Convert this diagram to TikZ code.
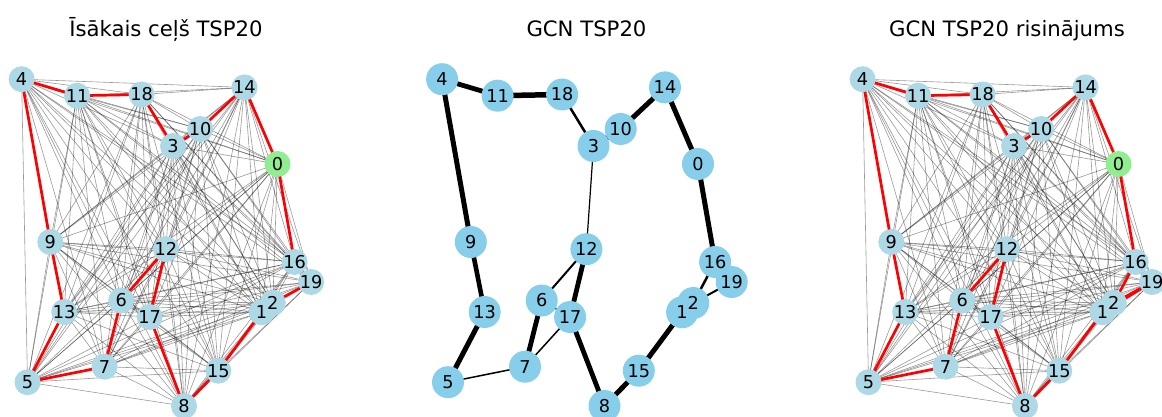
\documentclass[tikz,border=0pt]{standalone}
\usepackage{fontspec}
\setmainfont{DejaVu Sans}
\usetikzlibrary{backgrounds}
\definecolor{nodeblue}{HTML}{ADD8E6}
\definecolor{nodegreen}{HTML}{90EE90}
\definecolor{gcnblue}{HTML}{87CEEB}

% vertex layout: index / x / y (shared by the three panels)
\def\vlist{0/277.5/164, 1/261.6/312.3, 2/272.8/303, 3/173/146, 4/21.6/79.2,
  5/27.5/382.2, 6/121.2/300.5, 7/104.5/366.7, 8/184/406, 9/50.3/242,
  10/200.2/129, 11/77.1/95.7, 12/165.9/249.2, 13/64.2/312, 14/244.5/87.4,
  15/218.3/370.7, 16/294.6/262, 17/149.6/317, 18/141.6/94.5, 19/311.2/282}
% optimal tour
\def\tourA{4/11, 11/18, 18/3, 3/10, 10/14, 14/0, 0/16, 16/19, 19/2, 2/1,
  1/15, 15/8, 8/17, 17/12, 12/6, 6/7, 7/5, 5/13, 13/9, 9/4}
% tour decoded from the GCN heatmap
\def\tourC{4/11, 11/18, 18/3, 3/10, 10/14, 14/0, 0/16, 16/2, 2/19, 19/1,
  1/15, 15/8, 8/17, 17/12, 12/6, 6/7, 7/5, 5/13, 13/9, 9/4}
% GCN edge predictions: from / to / line width
\def\gcnedges{4/11/4.8, 11/18/5.5, 18/3/2.5, 3/10/5, 10/14/5, 14/0/5,
  0/16/5, 3/12/1.2, 16/2/2.5, 16/19/3, 19/2/2, 1/2/4, 1/15/5, 15/8/5,
  8/17/4.8, 17/12/4.8, 12/6/2, 6/17/1.5, 6/7/4.8, 7/17/1.5, 7/5/1.5,
  5/13/5, 13/9/4.6, 9/4/5}

\begin{document}
\begin{tikzpicture}[x=1pt,y=-1pt,
  vert/.style={circle, inner sep=0pt, minimum size=26pt, fill=nodeblue},
  gvert/.style={circle, inner sep=0pt, minimum size=32pt, fill=gcnblue},
  num/.style={inner sep=0pt, font=\fontsize{17.7}{18}\selectfont, text=black},
  paneltitle/.style={font=\fontsize{21.2}{22}\selectfont, anchor=base},
  fulledge/.style={draw=black, draw opacity=0.4, line width=0.6pt},
  touredge/.style={draw=red, line width=2.7pt},
  gcnedge/.style={draw=black},
]
\useasboundingbox (0,0) rectangle (1162,417);

% titles
\node[paneltitle] (t1) at (166,37) {Īsākais ceļš TSP20};
\node[paneltitle] (t2) at (586.5,37) {GCN TSP20};
\node[paneltitle] (t3) at (1007,37) {GCN TSP20 risinājums};

% vertices of the three panels
\foreach \n/\x/\y in \vlist {
  \ifnum\n=0 \def\fc{nodegreen}\else\def\fc{nodeblue}\fi
  \node[vert, fill=\fc] (a\n) at (\x,\y) {};
  \node[gvert] (b\n) at ({\x+420.5},\y) {};
  \node[vert, fill=\fc] (c\n) at ({\x+841},\y) {};
}
\foreach \n in {0,...,19} {
  \node[num] (la\n) at (a\n) {\n};
  \node[num] (lb\n) at (b\n) {\n};
  \node[num] (lc\n) at (c\n) {\n};
}

\begin{pgfonlayer}{background}
  % complete graph
  \foreach \i in {0,...,18} {
    \pgfmathtruncatemacro\s{\i+1}
    \foreach \j in {\s,...,19} {
      \draw[fulledge] (a\i.center) -- (a\j.center);
      \draw[fulledge] (c\i.center) -- (c\j.center);
    }
  }
  % tours
  \foreach \u/\v in \tourA { \draw[touredge] (a\u.center) -- (a\v.center); }
  \foreach \u/\v in \tourC { \draw[touredge] (c\u.center) -- (c\v.center); }
  % GCN predicted edges
  \foreach \u/\v/\w in \gcnedges {
    \draw[gcnedge, line width=\w pt] (b\u.center) -- (b\v.center);
  }
\end{pgfonlayer}
\end{tikzpicture}
\end{document}
